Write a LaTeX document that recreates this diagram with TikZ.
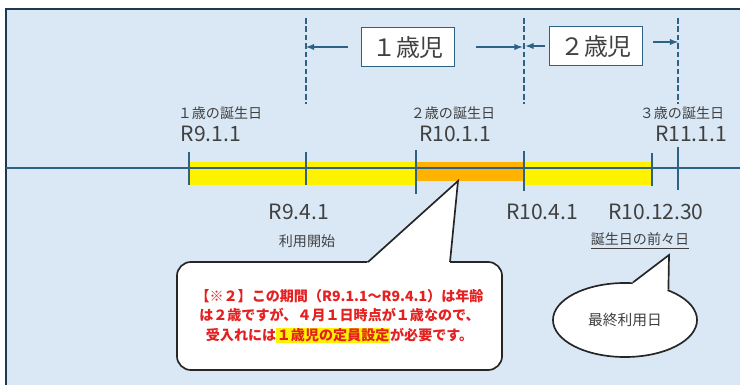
\documentclass[tikz,border=0pt]{standalone}
\usepackage{fontspec}
\setmainfont{Noto Sans CJK JP}
\usetikzlibrary{positioning,shapes,arrows,calc}
\definecolor{bgblue}{RGB}{218,232,245}
\definecolor{framenavy}{RGB}{31,56,84}
\definecolor{lineblue}{RGB}{46,98,133}
\definecolor{labelgray}{RGB}{64,64,64}
\definecolor{barorange}{RGB}{255,178,0}
\definecolor{notered}{RGB}{228,32,32}
\setlength{\fboxsep}{0.5pt}

\begin{document}
\begin{tikzpicture}[x=0.025cm, y=-0.025cm, >=latex,
  agebox/.style={draw=lineblue, line width=1pt, fill=white, minimum width=2.32cm,
    minimum height=0.97cm, inner sep=0pt, text=labelgray, font=\fontsize{17}{20}\selectfont},
  datelbl/.style={text=labelgray, font=\fontsize{15}{18}\selectfont, inner sep=0pt},
  smalllbl/.style={text=labelgray, font=\fontsize{10}{12}\selectfont, inner sep=0pt},
  tick/.style={lineblue, line width=1.3pt},
  bound/.style={lineblue, line width=1pt, dash pattern=on 4pt off 2pt},
  span/.style={lineblue, line width=1pt, ->},
  bubble/.style={draw=black!85, line width=1.2pt, fill=white}]
  \useasboundingbox (0,0) rectangle (740,385);
  \fill[white] (0,0) rectangle (740,385);
  \draw[framenavy, line width=1.5pt, fill=bgblue] (6,9) rectangle (750,395);

  % time line
  \fill[yellow] (189,162) rectangle (416,185);
  \fill[yellow] (524,162) rectangle (652,185);
  \fill[barorange] (416,162) rectangle (524,181);
  \draw[lineblue, line width=1.3pt] (6,168) -- (740,168);
  \foreach \x/\a/\b in {189/152/185, 306/152/185, 416/150/194, 524/151/191, 652/153/186, 678/147/190}
    \draw[tick] (\x,\a) -- (\x,\b);
  \foreach \x/\n in {306/d1, 524/d2, 678/d3}
    \draw[bound] (\x,18) coordinate (\n top) -- (\x,104);

  % age classes
  \node[agebox] (age1) at (408,47) {１歳児};
  \node[agebox] (age2) at (596,46) {２歳児};
  \draw[span] ([xshift=-0.33cm]age1.west) -- (d1top |- age1.west);
  \draw[span] ([xshift=0.52cm]age1.east) -- ([xshift=-1pt]d2top |- age1.east);
  \draw[span] ([xshift=-0.1cm]age2.west) -- ([xshift=1pt]d2top |- age2.west);
  \draw[span] ([xshift=0.25cm,yshift=0.1cm]age2.east) -- ([yshift=0.1cm]d3top |- age2.east);

  % dates
  \node[smalllbl] (bday1) at (220,113) {１歳の誕生日};
  \node[datelbl] (date1) at (211,134) {R9.1.1};
  \node[smalllbl] (bday2) at (453,113) {２歳の誕生日};
  \node[datelbl] (date2) at (455,134) {R10.1.1};
  \node[smalllbl] (bday3) at (682,113) {３歳の誕生日};
  \node[datelbl] (date3) at (691,134) {R11.1.1};
  \node[datelbl] (start) at (299,212) {R9.4.1};
  \node[smalllbl] (startlbl) at (307,241) {利用開始};
  \node[datelbl] (april) at (542,212) {R10.4.1};
  \node[datelbl] (lastdate) at (656,212) {R10.12.30};
  \node[smalllbl] (lastlbl) at (640,241) {\underline{誕生日の前々日}};

  % callouts
  \node[bubble, rounded corners=0.35cm, minimum width=8.125cm, minimum height=2.7cm,
    align=center, text=notered, font=\bfseries\fontsize{10}{14}\selectfont] (note) at (339.5,316)
    {【※２】この期間（R9.1.1～R9.4.1）は年齢\\は２歳ですが、４月１日時点が１歳なので、\\
     受入れには\colorbox{yellow}{１歳児の定員設定}が必要です。};
  \coordinate (tip1) at (458,181);
  \fill[white] (364.7,265) -- (tip1) -- (449.7,265) -- cycle;
  \draw[bubble, fill=none] (368,262) -- (tip1) -- (450,262);

  \node[bubble, ellipse, minimum width=3.6cm, minimum height=1.85cm, inner sep=0pt,
    text=labelgray, font=\fontsize{10.5}{12}\selectfont] (lastday) at (625,320) {最終利用日};
  \coordinate (tip2) at (669,255);
  \fill[white] ($(lastday.78)!0.1!(lastday.center)$) -- (lastday.78) -- (tip2)
    -- (lastday.35) -- ($(lastday.35)!0.1!(lastday.center)$) -- cycle;
  \draw[bubble, fill=none] (lastday.78) -- (tip2) -- (lastday.35);
\end{tikzpicture}
\end{document}
